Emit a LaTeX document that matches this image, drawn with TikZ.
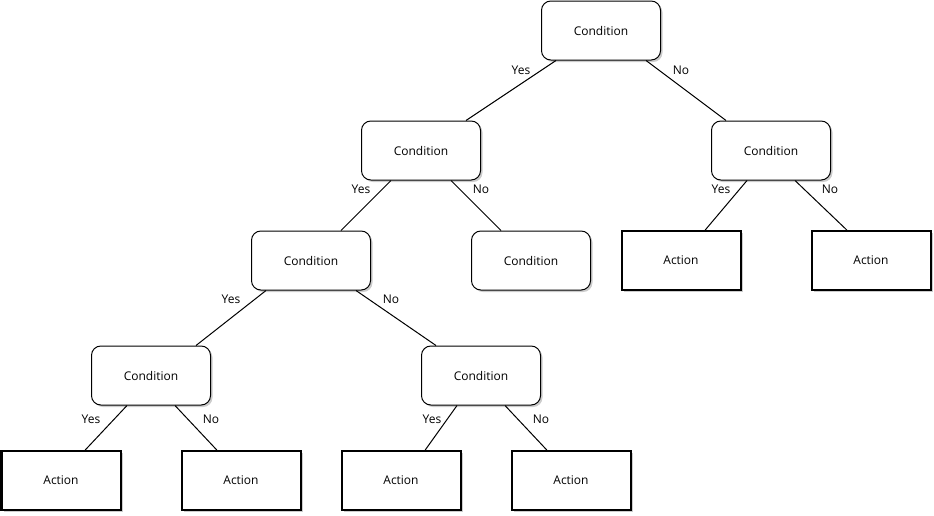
\documentclass[tikz,border=0pt]{standalone}
\usepackage{fontspec}
\setmainfont{Open Sans}
\usetikzlibrary{calc,shadows}
\begin{document}
\begin{tikzpicture}[x=0.75pt,y=-0.75pt,
  txt/.style={font=\fontsize{9}{11}\selectfont},
  box/.style={txt,draw,fill=white,inner sep=0pt,minimum width=89.25pt,minimum height=44.25pt,
    drop shadow={shadow xshift=1.5pt,shadow yshift=-1.5pt,fill=black,opacity=0.2}},
  cond/.style={box,rounded corners=7pt,line width=0.75pt},
  act/.style={box,line width=1.5pt},
  lbl/.style={txt,inner sep=0pt},
  edge/.style={line width=0.75pt}]
\useasboundingbox (0,0) rectangle (934,515);
% condition nodes
\node[cond] (r)  at (601,30.5) {Condition};
\node[cond] (c1) at (421,150.5) {Condition};
\node[cond] (c2) at (771,150.5) {Condition};
\node[cond] (c3) at (311,260.5) {Condition};
\node[cond] (c4) at (531,260.5) {Condition};
\node[cond] (c5) at (151,375.5) {Condition};
\node[cond] (c6) at (481,375.5) {Condition};
% action nodes
\node[act] (a1) at (681,260.5) {Action};
\node[act] (a2) at (871,260.5) {Action};
\node[act] (a3) at (61,480.5) {Action};
\node[act] (a4) at (241,480.5) {Action};
\node[act] (a5) at (401,480.5) {Action};
\node[act] (a6) at (571,480.5) {Action};
% edges
\newcommand{\edgeto}[4]{\draw[edge] ($(#1.south west)!#2!(#1.south east)$) -- ($(#3.north west)!#4!(#3.north east)$);}
\edgeto{r}{0.125}{c1}{0.875}
\edgeto{r}{0.875}{c2}{0.125}
\edgeto{c1}{0.25}{c3}{0.75}
\edgeto{c1}{0.75}{c4}{0.25}
\edgeto{c2}{0.3}{a1}{0.7}
\edgeto{c2}{0.7}{a2}{0.3}
\edgeto{c3}{0.125}{c5}{0.875}
\edgeto{c3}{0.875}{c6}{0.125}
\edgeto{c5}{0.3}{a3}{0.7}
\edgeto{c5}{0.7}{a4}{0.3}
\edgeto{c6}{0.3}{a5}{0.7}
\edgeto{c6}{0.7}{a6}{0.3}
% labels
\node[lbl] (l1) at (521,70) {Yes};
\node[lbl] (l2) at (681,70) {No};
\node[lbl] (l3) at (361,189.5) {Yes};
\node[lbl] (l4) at (481,189.5) {No};
\node[lbl] (l5) at (721,189.5) {Yes};
\node[lbl] (l6) at (830,189.5) {No};
\node[lbl] (l7) at (231,299.5) {Yes};
\node[lbl] (l8) at (391,299.5) {No};
\node[lbl] (l9) at (91,419.5) {Yes};
\node[lbl] (l10) at (211,419.5) {No};
\node[lbl] (l11) at (432,419.5) {Yes};
\node[lbl] (l12) at (541,419.5) {No};
\end{tikzpicture}
\end{document}
